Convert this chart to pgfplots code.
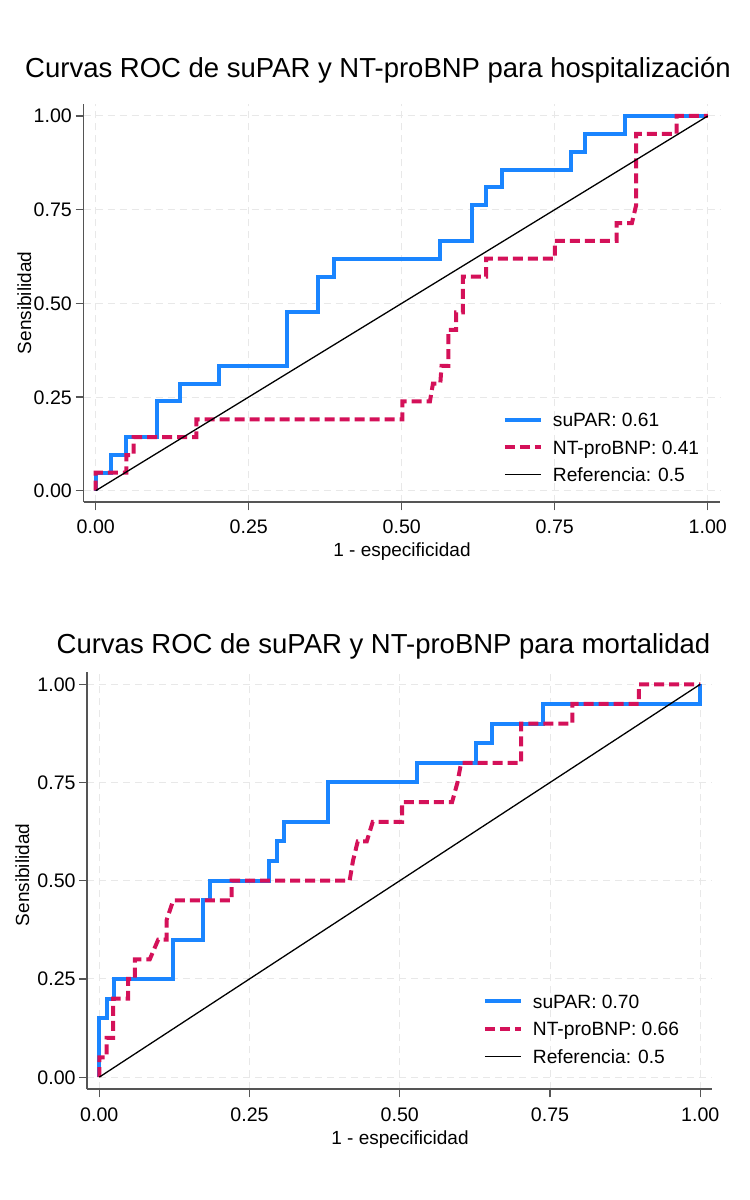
\documentclass[border=0pt]{standalone}
\usepackage{fontspec}
\setmainfont{Liberation Sans}
\usepackage{pgfplots}
\pgfplotsset{compat=1.18}
\definecolor{stcA}{RGB}{26,133,255}
\definecolor{stcB}{RGB}{212,17,89}
\definecolor{gridc}{RGB}{232,232,232}
\definecolor{axc}{RGB}{85,85,85}
\newcommand{\tickfont}{\fontsize{19.6}{22}\selectfont}
\newcommand{\legfont}{\fontsize{19.2}{22}\selectfont}
\newcommand{\labfont}{\fontsize{19}{22}\selectfont}
\newcommand{\titfont}{\fontsize{27.5}{31}\selectfont}
\pgfplotsset{
  rocstyle/.style={
    scale only axis, anchor=south west,
    xmin=-0.02, xmax=1.02, ymin=-0.031, ymax=1.032,
    axis x line*=bottom, axis y line*=left,
    axis line style={axc, line width=1.6pt, -},
    xtick={0,0.25,0.5,0.75,1}, ytick={0,0.25,0.5,0.75,1},
    tick align=outside, major tick length=8pt,
    tick style={axc, line width=1.2pt},
    grid=major,
    major grid style={gridc, line width=1pt, dash pattern=on 7pt off 5pt},
    xticklabel style={font=\tickfont, anchor=base, inner sep=0pt, yshift=-23.7pt},
    yticklabel style={font=\tickfont, anchor=base east, inner sep=0pt, xshift=-3.5pt, yshift=-7pt},
    /pgf/number format/fixed,
    /pgf/number format/fixed zerofill,
    /pgf/number format/precision=2,
    /pgf/number format/assume math mode=true,
    legend style={anchor=north west, draw=none, fill=none, inner sep=0pt, outer sep=0pt,
      row sep=5.5pt, column sep=8pt, font=\legfont,
      nodes={inner sep=2pt, text height=14pt, text depth=4pt}},
    legend cell align=left,
    legend image code/.code={\draw[##1] (0pt,2pt) -- (36pt,2pt);},
    clip=false,
  },
  supar/.style={stcA, line width=4pt, line join=miter},
  ntpro/.style={stcB, line width=4pt, dash pattern=on 10pt off 5pt, line join=miter},
  refl/.style={black, line width=1.3pt},
}
\begin{document}
\begin{tikzpicture}[x=1pt,y=1pt]
\path[use as bounding box] (0,0) rectangle (750,1200);

% ---------------- Panel 1: hospitalizacion
\begin{axis}[rocstyle, at={(83.5pt,697.7pt)}, width=636.5pt, height=398.3pt,
  legend style={at={(axis description cs:0.659,0.230)}}]
\addplot[supar] coordinates {
(0,0) (0,0.048) (0.0245,0.048) (0.0245,0.095) (0.05,0.095) (0.05,0.143)
(0.10,0.143) (0.10,0.238) (0.137,0.238) (0.137,0.286) (0.201,0.286) (0.201,0.333)
(0.3126,0.333) (0.3126,0.476) (0.363,0.476) (0.363,0.571) (0.389,0.571) (0.389,0.619)
(0.563,0.619) (0.563,0.667) (0.614,0.667) (0.614,0.762) (0.638,0.762) (0.638,0.810)
(0.664,0.810) (0.664,0.857) (0.776,0.857) (0.776,0.905) (0.800,0.905) (0.800,0.952)
(0.864,0.952) (0.864,1) (1,1)};
\addlegendentry{suPAR: 0.61}
\addplot[ntpro] coordinates {
(0,0) (0,0.048) (0.05,0.048) (0.05,0.095) (0.062,0.095) (0.062,0.143)
(0.1645,0.143) (0.1645,0.190) (0.501,0.190) (0.501,0.238) (0.546,0.238)
(0.551,0.286) (0.563,0.286) (0.565,0.333) (0.576,0.333) (0.576,0.429)
(0.589,0.429) (0.589,0.476) (0.600,0.476) (0.600,0.571) (0.638,0.571) (0.638,0.619)
(0.750,0.619) (0.750,0.667) (0.851,0.667) (0.851,0.714) (0.876,0.714) (0.883,0.762)
(0.883,0.952) (0.949,0.952) (0.949,1) (1,1)};
\addlegendentry{NT-proBNP: 0.41}
\addplot[refl] coordinates {(0,0) (1,1)};
\addlegendentry{Referencia: 0.5}
\end{axis}
\node[font=\titfont, anchor=base] at (378,1122.7) {Curvas ROC de suPAR y NT-proBNP para hospitalización};
\node[font=\labfont, anchor=base] at (402,643) {1 - especificidad};
\node[font=\labfont, anchor=base, rotate=90] at (31,897) {Sensibilidad};

% ---------------- Panel 2: mortalidad
\begin{axis}[rocstyle, at={(87.3pt,110.7pt)}, width=625pt, height=417.6pt,
  legend style={at={(axis description cs:0.633,0.2323)}}]
\addplot[supar] coordinates {
(0,0) (0,0.15) (0.012,0.15) (0.012,0.20) (0.0244,0.20) (0.0244,0.25)
(0.123,0.25) (0.123,0.35) (0.173,0.35) (0.173,0.45) (0.185,0.45) (0.185,0.50)
(0.282,0.50) (0.282,0.55) (0.295,0.55) (0.295,0.60) (0.307,0.60) (0.307,0.65)
(0.381,0.65) (0.381,0.75) (0.529,0.75) (0.529,0.80) (0.627,0.80) (0.627,0.85)
(0.653,0.85) (0.653,0.90) (0.7375,0.90) (0.7375,0.95) (1,0.95) (1,1)};
\addlegendentry{suPAR: 0.70}
\addplot[ntpro] coordinates {
(0,0) (0,0.05) (0.012,0.05) (0.012,0.10) (0.023,0.10) (0.023,0.20)
(0.048,0.20) (0.048,0.25) (0.059,0.25) (0.059,0.30) (0.084,0.30) (0.098,0.35)
(0.112,0.35) (0.112,0.40) (0.123,0.45) (0.220,0.45) (0.220,0.50) (0.4165,0.50)
(0.422,0.55) (0.430,0.60) (0.445,0.60) (0.455,0.65) (0.504,0.65) (0.504,0.70)
(0.587,0.70) (0.596,0.75) (0.602,0.80) (0.702,0.80) (0.702,0.90) (0.787,0.90)
(0.787,0.95) (0.898,0.95) (0.898,1) (1,1)};
\addlegendentry{NT-proBNP: 0.66}
\addplot[refl] coordinates {(0,0) (1,1)};
\addlegendentry{Referencia: 0.5}
\end{axis}
\node[font=\titfont, anchor=base] at (383.5,546.7) {Curvas ROC de suPAR y NT-proBNP para mortalidad};
\node[font=\labfont, anchor=base] at (400,55.5) {1 - especificidad};
\node[font=\labfont, anchor=base, rotate=90] at (29,325) {Sensibilidad};
\end{tikzpicture}
\end{document}
